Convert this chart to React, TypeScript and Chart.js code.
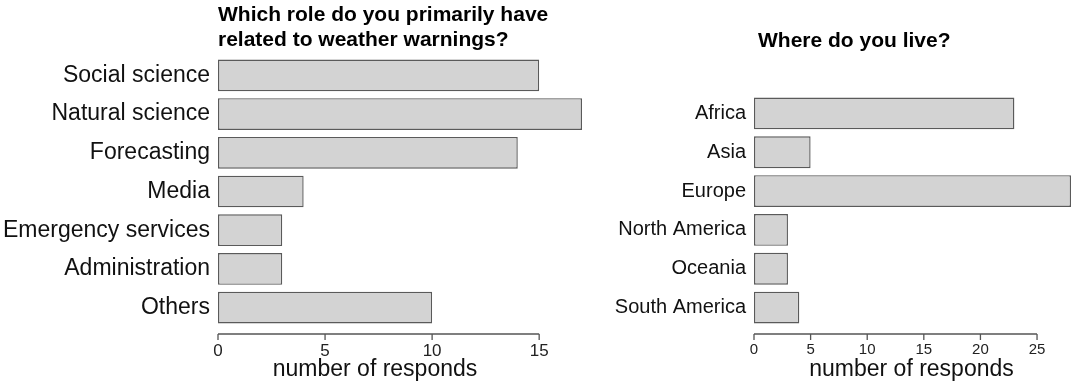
import React, { useEffect, useRef } from "react";
import { Chart, registerables } from "chart.js";

Chart.register(...registerables);

// ---- data ----
const roleTitle = ["Which role do you primarily have", "related to weather warnings?"];
const roleCategories = [
  "Social science",
  "Natural science",
  "Forecasting",
  "Media",
  "Emergency services",
  "Administration",
  "Others",
];
const roleCounts = [15, 17, 14, 4, 3, 3, 10];
const roleTicks = [0, 5, 10, 15];
const roleMax = 17;

const regionTitle = ["Where do you live?"];
const regionCategories = ["Africa", "Asia", "Europe", "North America", "Oceania", "South America"];
const regionCounts = [23, 5, 28, 3, 3, 4];
const regionTicks = [0, 5, 10, 15, 20, 25];
const regionMax = 28;

const axisTitle = "number of responds";

const FONT = "'Liberation Sans', Arial, Helvetica, sans-serif";

type Spec = {
  width: number;
  height: number;
  labels: string[];
  values: number[];
  ticks: number[];
  max: number;
  title: string[];
  titleX: number; // offset from chart area left
  titleBaselines: number[];
  titleSize: number;
  yWidth: number;
  padTop: number;
  padRight: number;
  catSize: number;
  tickSize: number;
  axisTitleCenterX: number; // canvas-relative
};

function makeChart(canvas: HTMLCanvasElement, s: Spec) {
  const decor = {
    id: "decor",
    afterDraw(chart: any) {
      const ctx = chart.ctx;
      const xs = chart.scales.x;
      const area = chart.chartArea;
      const yAxis = area.bottom + 7;
      const x0 = xs.getPixelForValue(s.ticks[0]);
      const x1 = xs.getPixelForValue(s.ticks[s.ticks.length - 1]);
      ctx.save();
      ctx.strokeStyle = "#555";
      ctx.lineWidth = 1.3;
      ctx.beginPath();
      ctx.moveTo(x0, yAxis);
      ctx.lineTo(x1, yAxis);
      for (const t of s.ticks) {
        const px = xs.getPixelForValue(t);
        ctx.moveTo(px, yAxis);
        ctx.lineTo(px, yAxis + 6);
      }
      ctx.stroke();
      // chart title
      ctx.fillStyle = "#000";
      ctx.font = `bold ${s.titleSize}px ${FONT}`;
      ctx.textAlign = "left";
      ctx.textBaseline = "alphabetic";
      s.title.forEach((line, i) => {
        ctx.fillText(line, area.left + s.titleX, s.titleBaselines[i]);
      });
      // axis title
      ctx.font = `23px ${FONT}`;
      ctx.textAlign = "center";
      ctx.fillStyle = "#111";
      ctx.fillText(axisTitle, s.axisTitleCenterX, 376);
      ctx.restore();
    },
  };

  return new Chart(canvas, {
    type: "bar",
    data: {
      labels: s.labels,
      datasets: [
        {
          data: s.values,
          backgroundColor: "#d3d3d3",
          borderColor: "#5a5a5a",
          borderWidth: 1.4,
          borderSkipped: false,
          barPercentage: 0.82,
          categoryPercentage: 1,
        },
      ],
    },
    options: {
      indexAxis: "y",
      animation: false,
      responsive: false,
      maintainAspectRatio: false,
      devicePixelRatio: 1,
      layout: { padding: { top: s.padTop, right: s.padRight, left: 0, bottom: 0 } },
      plugins: {
        legend: { display: false },
        tooltip: { enabled: false },
        title: { display: false },
      },
      scales: {
        x: {
          type: "linear",
          min: 0,
          max: s.max,
          grid: { display: false, drawTicks: false },
          border: { display: false },
          afterBuildTicks: (scale: any) => {
            scale.ticks = s.ticks.map((v) => ({ value: v }));
          },
          afterFit: (scale: any) => {
            scale.height = 57;
          },
          ticks: {
            padding: 14,
            color: "#222",
            font: { family: FONT, size: s.tickSize },
            maxRotation: 0,
            autoSkip: false,
          },
        },
        y: {
          type: "category",
          grid: { display: false, drawTicks: false },
          border: { display: false },
          afterFit: (scale: any) => {
            scale.width = s.yWidth;
          },
          ticks: {
            padding: 8,
            color: "#111",
            font: { family: FONT, size: s.catSize },
            autoSkip: false,
          },
        },
      },
    },
    plugins: [decor],
  } as any);
}

function BarPanel({ spec, left }: { spec: Spec; left: number }) {
  const ref = useRef<HTMLCanvasElement | null>(null);
  useEffect(() => {
    if (!ref.current) return;
    const chart = makeChart(ref.current, spec);
    return () => chart.destroy();
  }, [spec]);
  return (
    <canvas
      ref={ref}
      width={spec.width}
      height={spec.height}
      style={{ position: "absolute", left, top: 0, width: spec.width, height: spec.height }}
    />
  );
}

const leftSpec: Spec = {
  width: 600,
  height: 384,
  labels: roleCategories,
  values: roleCounts,
  ticks: roleTicks,
  max: roleMax,
  title: roleTitle,
  titleX: 0,
  titleBaselines: [21, 46],
  titleSize: 21,
  yWidth: 218,
  padTop: 56,
  padRight: 18,
  catSize: 23,
  tickSize: 17,
  axisTitleCenterX: 375,
};

const rightSpec: Spec = {
  width: 472,
  height: 384,
  labels: regionCategories,
  values: regionCounts,
  ticks: regionTicks,
  max: regionMax,
  title: regionTitle,
  titleX: 4,
  titleBaselines: [47],
  titleSize: 21,
  yWidth: 154,
  padTop: 94,
  padRight: 1,
  catSize: 20,
  tickSize: 15,
  axisTitleCenterX: 311.5,
};

export default function App() {
  return (
    <div
      style={{
        position: "absolute",
        left: 0,
        top: 0,
        width: 1072,
        height: 384,
        background: "#fff",
        overflow: "hidden",
      }}
    >
      <BarPanel spec={leftSpec} left={0} />
      <BarPanel spec={rightSpec} left={600} />
    </div>
  );
}
